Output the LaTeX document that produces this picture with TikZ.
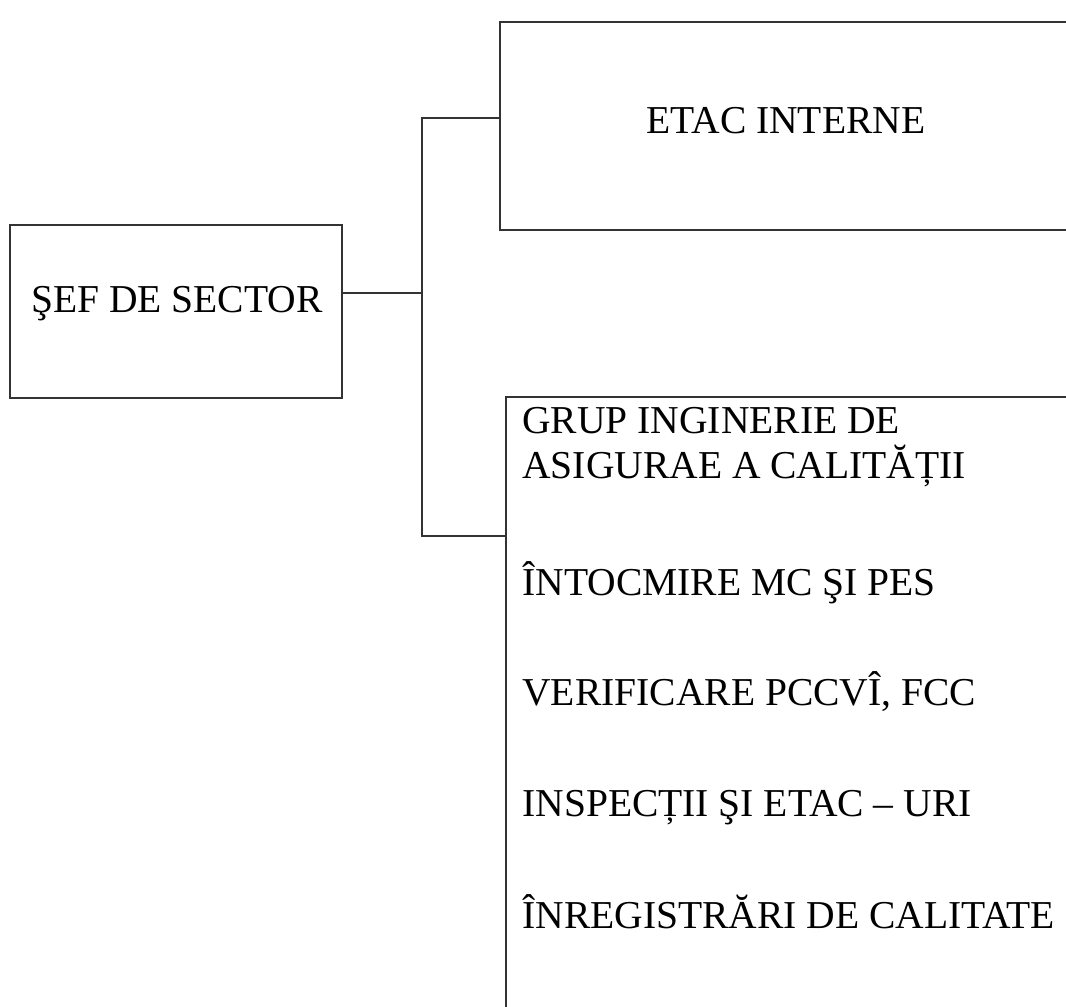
\documentclass[tikz,border=0pt]{standalone}
\usepackage{fontspec}
\setmainfont{Liberation Serif}
\usetikzlibrary{positioning, calc}

\begin{document}
\begin{tikzpicture}[x=0.02cm, y=-0.02cm]
    \tikzstyle{unitbox} = [rectangle, draw=black!80, line width=0.8pt, inner sep=0pt]
    \tikzstyle{txt} = [font=\fontsize{22.5}{27}\selectfont, inner sep=0pt]
    \tikzstyle{link} = [draw=black!80, line width=0.8pt]

    \useasboundingbox (0,0) rectangle (1066,1007);
    \clip (0,0) rectangle (1066,1007);

    % boxes
    \node[unitbox, minimum width=6.64cm, minimum height=3.46cm] (sef) at (176,311.5) {};
    \node[unitbox, minimum width=12cm, minimum height=4.16cm] (etac) at (800,126) {};
    \node[unitbox, minimum width=11.88cm, minimum height=13.06cm] (grup) at (803,723.5) {};

    % texts
    \node[txt, anchor=base] (seftext) at (177,313) {ŞEF DE SECTOR};
    \node[txt, anchor=base west] (etactext) at (646,133) {ETAC INTERNE};
    \node[txt, anchor=base west] (grup1) at (522,433) {GRUP INGINERIE DE};
    \node[txt, anchor=base west] (grup2) at (522,478) {ASIGURAE A CALITĂȚII};
    \node[txt, anchor=base west] (mc) at (522,595) {ÎNTOCMIRE MC ŞI PES};
    \node[txt, anchor=base west] (pccvi) at (522,705) {VERIFICARE PCCVÎ, FCC};
    \node[txt, anchor=base west] (insp) at (522,816) {INSPECȚII ŞI ETAC – URI};
    \node[txt, anchor=base west] (inreg) at (522,928) {ÎNREGISTRĂRI DE CALITATE};

    % connectors
    \coordinate (jmid) at (422,293);
    \coordinate (jtop) at (422,118);
    \coordinate (jbot) at (422,536);
    \draw[link] (sef.east |- jmid) -- (jmid);
    \draw[link] (etac.west |- jtop) -- (jtop) -- (jbot) -- (grup.west |- jbot);
\end{tikzpicture}
\end{document}
